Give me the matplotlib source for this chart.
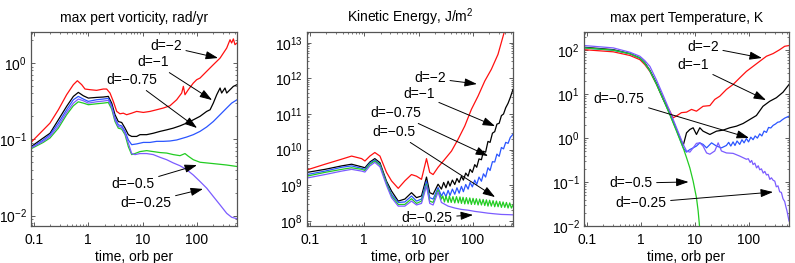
import matplotlib
matplotlib.use("Agg")
import matplotlib.pyplot as plt

plt.rcParams['font.family'] = ['Liberation Sans', 'DejaVu Sans']
plt.rcParams['mathtext.default'] = 'regular'

# ---------------- data ----------------
titles = ["max pert vorticity, rad/yr", "Kinetic Energy, J/m$^2$", "max pert Temperature, K"]
xlabel = "time, orb per"
labels = ["d=\u22122", "d=\u22121", "d=\u22120.75", "d=\u22120.5", "d=\u22120.25"]

# Panel 1: max perturbation vorticity
vort_t_red = [0.088, 0.129, 0.197, 0.281, 0.399, 0.531, 0.629, 0.756, 0.870, 1.076, 1.421, 1.890, 2.181, 2.514,
              2.891, 3.341, 3.836, 4.420, 5.093, 6.303, 7.790, 10.33, 13.72, 18.22, 24.16, 31.97, 42.56, 52.66,
              56.50, 60.53, 69.68, 86.17, 99.38, 114.5, 151.9, 201.2, 268.1, 355.3, 409.2, 438.2, 471.4, 504.9, 550]
vort_red = [0.091, 0.12, 0.163, 0.244, 0.384, 0.52, 0.586, 0.52, 0.456, 0.447, 0.438, 0.456, 0.456, 0.404,
            0.314, 0.232, 0.216, 0.22, 0.21, 0.22, 0.232, 0.225, 0.232, 0.244, 0.257, 0.275, 0.33, 0.404, 0.494,
            0.384, 0.447, 0.546, 0.604, 0.635, 0.778, 0.95, 1.16, 1.57, 2.02, 1.83, 2.07, 1.74, 1.83]
vort_t_black = [0.088, 0.148, 0.197, 0.281, 0.399, 0.531, 0.655, 0.811, 1.00, 1.421, 1.890, 2.340, 2.702, 3.108,
                3.574, 4.126, 4.756, 5.475, 6.303, 7.790, 8.974, 11.90, 15.76, 21.02, 27.82, 36.83, 48.98, 64.93,
                86.17, 114.5, 151.9, 175.7, 201.2, 232.7, 268.1, 286.9, 330.5, 355.3, 409.2, 471.4, 550]
vort_black = [0.080, 0.104, 0.12, 0.18, 0.27, 0.365, 0.412, 0.372, 0.347, 0.354, 0.358, 0.365, 0.298, 0.21,
              0.171, 0.166, 0.140, 0.115, 0.109, 0.109, 0.115, 0.115, 0.12, 0.127, 0.133, 0.140, 0.150, 0.163,
              0.18, 0.2, 0.232, 0.244, 0.298, 0.384, 0.47, 0.404, 0.47, 0.404, 0.447, 0.494, 0.52]
vort_t_blue = [0.088, 0.148, 0.197, 0.281, 0.399, 0.531, 0.655, 0.811, 1.00, 1.421, 1.890, 2.340, 2.702, 3.108,
               3.574, 4.126, 4.756, 5.475, 6.303, 7.790, 10.33, 13.72, 18.22, 24.16, 31.97, 42.56, 64.93, 86.17,
               114.5, 151.9, 201.2, 268.1, 355.3, 438.2, 550]
vort_blue = [0.077, 0.098, 0.115, 0.163, 0.244, 0.33, 0.365, 0.337, 0.314, 0.33, 0.337, 0.344, 0.275, 0.19,
             0.155, 0.150, 0.127, 0.098, 0.085, 0.087, 0.091, 0.091, 0.094, 0.094, 0.095, 0.098, 0.107, 0.115,
             0.127, 0.145, 0.171, 0.21, 0.257, 0.298, 0.33]
vort_t_green = [0.088, 0.148, 0.197, 0.281, 0.399, 0.531, 0.655, 0.811, 1.00, 1.421, 1.890, 2.340, 2.702, 3.108,
                3.574, 4.126, 4.756, 5.475, 6.303, 7.254, 8.974, 11.90, 15.76, 21.02, 27.82, 36.83, 48.98, 60.53,
                69.68, 86.17, 114.5, 151.9, 201.2, 268.1, 355.3, 550]
vort_green = [0.075, 0.091, 0.104, 0.140, 0.21, 0.275, 0.31, 0.298, 0.284, 0.292, 0.298, 0.304, 0.249, 0.171,
              0.140, 0.136, 0.115, 0.080, 0.063, 0.065, 0.069, 0.071, 0.069, 0.067, 0.066, 0.063, 0.061, 0.065,
              0.060, 0.054, 0.050, 0.049, 0.048, 0.047, 0.046, 0.044]
vort_t_purple = [0.088, 0.148, 0.197, 0.281, 0.399, 0.531, 0.655, 0.811, 1.00, 1.421, 1.890, 2.340, 2.702, 3.108,
                 3.574, 4.126, 4.756, 5.475, 6.303, 7.254, 8.974, 11.90, 15.76, 21.02, 27.82, 36.83, 48.98, 64.93,
                 86.17, 114.5, 151.9, 201.2, 268.1, 355.3, 438.2, 550]
vort_purple = [0.077, 0.094, 0.109, 0.150, 0.225, 0.298, 0.337, 0.32, 0.298, 0.31, 0.317, 0.324, 0.264, 0.18,
               0.147, 0.143, 0.12, 0.089, 0.065, 0.063, 0.065, 0.065, 0.063, 0.058, 0.054, 0.049, 0.045, 0.040,
               0.034, 0.028, 0.0229, 0.0178, 0.0138, 0.0107, 0.0095, 0.0091]

# Panel 2: kinetic energy
ke_t_red = [0.088, 0.189, 0.383, 0.584, 0.893, 1.028, 1.268, 1.564, 1.943, 2.567, 3.177, 4.224, 5.588, 7.413,
            9.166, 11.33, 14.01, 16.07, 18.54, 22.90, 30.52, 40.43, 53.49, 71.04, 94.15, 125.1, 165.9, 219.7,
            290.7, 376.4, 446.1]
ke_red = [2.7e9, 3.9e9, 5.4e9, 6.6e9, 5.6e9, 4.8e9, 6.6e9, 8.3e9, 6.6e9, 2.3e9, 1.33e9, 8.2e8, 1.33e9, 2.0e9,
          1.8e9, 1.47e9, 5.6e9, 2.3e9, 2.0e9, 3.2e9, 5.4e9, 9.1e9, 1.95e10, 4.6e10, 1.35e11, 3.2e11, 8.4e11,
          1.8e12, 4.7e12, 1.9e13, 4.5e13]
ke_t_early = [0.088, 0.189, 0.383, 0.584, 0.893, 1.028, 1.268, 1.564, 1.943, 2.567, 3.177, 4.224, 5.588, 7.413,
              9.166, 11.33, 14.01, 16.07, 18.54, 22.90]
ke_t_late_a = [26.38, 29, 32, 35.05, 38, 42, 46.5, 51, 56, 61.71, 67, 74, 81.87, 89, 98, 108.5, 118, 130, 144,
               157, 172, 190.2, 208, 230, 253.2, 278, 306, 336.3, 368, 404, 446.1, 490, 550]
ke_black = [2.3e9, 2.8e9, 3.5e9, 3.9e9, 3.3e9, 3.1e9, 4.5e9, 5.6e9, 4.3e9, 1.3e9, 6.9e8, 3.6e8, 4.1e8, 6.2e8,
            4.5e8, 5.0e8, 1.7e9, 6.2e8, 5.6e8, 1.07e9,
            7.8e8, 1.2e9, 8.5e8, 1.3e9, 9.5e8, 1.4e9, 1.05e9, 1.55e9, 1.2e9, 1.8e9, 1.4e9, 2.2e9, 1.8e9, 2.8e9,
            2.3e9, 3.8e9, 3.2e9, 5.5e9, 5.2e9, 9.0e9, 8.5e9, 1.7e10, 1.6e10, 2.9e10, 3.2e10, 5.2e10, 5.5e10,
            9.0e10, 1.0e11, 1.5e11, 2.0e11, 2.9e11, 4.9e11]
ke_blue = [2.0e9, 2.5e9, 3.2e9, 3.5e9, 3.0e9, 2.8e9, 4.2e9, 5.1e9, 3.9e9, 1.18e9, 5.6e8, 3.3e8, 3.4e8, 5.0e8,
           3.6e8, 4.1e8, 1.3e9, 4.5e8, 4.1e8, 8.6e8,
           5.0e8, 6.5e8, 4.8e8, 7.2e8, 5.2e8, 7.8e8, 5.6e8, 8.5e8, 6.0e8, 9.3e8, 6.6e8, 1.05e9, 7.8e8, 1.2e9,
           9.0e8, 1.4e9, 1.05e9, 1.7e9, 1.3e9, 2.1e9, 1.7e9, 3.1e9, 2.6e9, 4.6e9, 4.5e9, 7.5e9, 6.5e9, 1.15e10,
           1.05e10, 1.6e10, 1.5e10, 2.2e10, 2.7e10]
ke_t_late_g = [26.38, 28, 30, 32, 35.05, 37, 40, 43, 46.5, 50, 54, 58, 61.71, 66, 71, 76, 81.87, 88, 94, 101,
               108.5, 116, 125, 134, 144, 155, 166, 178, 190.2, 204, 219, 236, 253.2, 272, 292, 314, 336.3, 361,
               388, 416, 446.1, 479, 514, 550]
ke_green = [1.8e9, 2.3e9, 2.8e9, 3.1e9, 2.8e9, 2.6e9, 3.9e9, 4.8e9, 3.7e9, 1.12e9, 5.0e8, 2.9e8, 2.9e8, 4.2e8,
            3.1e8, 3.6e8, 1.07e9, 3.6e8, 3.3e8, 7.4e8,
            4.1e8, 5.0e8, 3.4e8, 4.9e8, 3.3e8, 5.0e8, 3.3e8, 4.8e8, 3.2e8, 4.8e8, 3.2e8, 4.7e8, 3.1e8, 4.6e8,
            3.0e8, 4.5e8, 3.0e8, 4.4e8, 2.9e8, 4.3e8, 2.9e8, 4.2e8, 2.8e8, 4.1e8, 2.8e8, 4.0e8, 2.7e8, 3.9e8,
            2.6e8, 3.8e8, 2.6e8, 3.7e8, 2.5e8, 3.6e8, 2.5e8, 3.5e8, 2.4e8, 3.4e8, 2.4e8, 3.3e8, 2.3e8, 3.2e8,
            2.3e8, 2.8e8]
ke_t_purple = [0.088, 0.189, 0.383, 0.584, 0.893, 1.028, 1.268, 1.564, 1.943, 2.567, 3.177, 4.224, 5.588, 7.413,
               9.166, 11.33, 14.01, 16.07, 18.54, 22.90, 26.38, 35.05, 46.50, 61.71, 81.87, 108.5, 144.0, 190.2,
               253.2, 336.3, 446.1, 550]
ke_purple = [1.6e9, 2.0e9, 2.5e9, 2.8e9, 2.5e9, 2.35e9, 3.5e9, 4.4e9, 3.3e9, 1.0e9, 4.5e8, 2.6e8, 2.6e8, 3.6e8,
             2.8e8, 3.1e8, 9.6e8, 3.1e8, 2.8e8, 6.5e8, 3.3e8, 2.6e8, 2.3e8, 2.1e8, 2.0e8, 1.85e8, 1.75e8, 1.65e8,
             1.58e8, 1.52e8, 1.5e8, 1.48e8]

# Panel 3: max perturbation temperature
tmp_t_red = [0.088, 0.307, 0.624, 0.954, 1.178, 1.460, 1.943, 2.581, 3.423, 3.947, 4.546, 5.617, 6.964, 8.607,
             10.64, 14.09, 18.85, 23.22, 28.77, 38.13, 50.66, 67.30, 89.44, 118.9, 157.9, 210.4, 279.4, 370.7,
             457.7, 550]
tmp_red = [103, 92, 76, 61, 47, 33, 16.6, 7.6, 4.1, 2.9, 3.2, 3.8, 3.9, 4.5, 4.1, 5.3, 5.5, 7.6, 9.0, 12.8, 16.6,
           23.5, 33, 43, 56, 73, 84, 103, 123, 128]
tmp_t_black = [0.088, 0.307, 0.624, 0.954, 1.178, 1.460, 1.943, 2.581, 3.423, 4.546, 6.045, 6.964, 8.023, 9.237,
               10.64, 12.27, 14.09, 18.85, 24.95, 33.11, 44.04, 58.52, 77.55, 103.1, 137.0, 181.1, 241.9, 321.0,
               426.6, 550]
tmp_black = [117, 103, 84, 67, 52, 35, 17.5, 7.8, 3.6, 1.57, 0.68, 1.32, 1.57, 1.72, 1.21, 1.72, 1.44, 1.21,
             1.44, 1.52, 1.72, 1.87, 2.15, 2.65, 3.27, 5.3, 6.9, 8.3, 11.1, 16.6]
tmp_t_blue = [0.088, 0.307, 0.624, 0.954, 1.178, 1.460, 1.943, 2.581, 3.423, 4.546, 6.045, 6.964, 8.023, 9.237,
              10.64, 12.27, 14.09, 16.38, 20.24, 24.95, 30.85, 38.13, 42, 46, 50.66, 55, 60, 67.3, 74, 81, 89.44,
              98, 108, 118.9, 130, 143, 157.9, 173, 190, 210.4, 230, 253, 279.4, 310, 340, 370.7, 410, 457.7,
              500, 550]
tmp_blue = [113, 100, 83, 66, 51, 34, 17, 7.6, 3.5, 1.5, 0.60, 0.48, 0.55, 0.6, 0.66, 0.78, 0.72, 0.60, 0.78,
            0.66, 0.6, 0.68, 0.8, 0.66, 0.82, 0.68, 0.86, 0.72, 0.92, 0.78, 0.98, 0.82, 1.05, 0.92, 1.12, 1.0,
            1.25, 1.12, 1.45, 1.35, 1.75, 1.7, 1.95, 2.1, 2.3, 2.35, 2.6, 2.85, 3.0, 3.16]
tmp_t_green = [0.088, 0.307, 0.624, 0.954, 1.178, 1.460, 1.943, 2.581, 3.423, 4.546, 6.045, 6.964, 8.023, 9.237,
               10.64, 11.43, 12.27]
tmp_green = [113, 100, 83, 66, 50, 34, 16.6, 7.6, 3.4, 1.44, 0.60, 0.36, 0.21, 0.105, 0.044, 0.022, 0.0084]
tmp_t_purple = [0.088, 0.307, 0.624, 0.954, 1.178, 1.460, 1.943, 2.581, 3.423, 4.546, 6.045, 6.964, 8.023, 9.237,
                10.64, 12.27, 14.09, 16.38, 18.85, 23.22, 26.86, 30.85, 38.13, 50.66, 67.30, 89.44, 97, 105, 112,
                118.9, 128, 138, 148, 157.9, 170, 183, 196, 210.4, 226, 243, 260, 279.4, 300, 320, 343.9, 370,
                397.6, 425, 457.7, 480, 504.9, 550]
tmp_purple = [128, 113, 90, 73, 58, 43, 20.8, 9.3, 4.1, 1.72, 0.72, 0.51, 0.48, 0.60, 0.76, 0.78, 0.66, 0.46,
              0.43, 0.51, 0.78, 0.51, 0.46, 0.45, 0.39, 0.33, 0.34, 0.28, 0.31, 0.25, 0.27, 0.21, 0.235, 0.19,
              0.2, 0.16, 0.175, 0.145, 0.15, 0.115, 0.125, 0.11, 0.105, 0.078, 0.082, 0.06, 0.058, 0.042, 0.036,
              0.028, 0.022, 0.013]

colors = ["#ff1010", "#000000", "#2a55ff", "#22cc22", "#7b5cff"]

# ---------------- figure ----------------
fig = plt.figure(figsize=(7.95, 2.63), dpi=100)
W, H = 795.0, 263.0
boxes = [(31, 206), (307, 206), (584, 205)]
ax_top, ax_bot = 32, 226
axes = []
for (x0, w) in boxes:
    axes.append(fig.add_axes([x0 / W, (H - ax_bot) / H, w / W, (ax_bot - ax_top) / H]))

series = [
    [(vort_t_red, vort_red), (vort_t_black, vort_black), (vort_t_blue, vort_blue),
     (vort_t_green, vort_green), (vort_t_purple, vort_purple)],
    [(ke_t_red, ke_red), (ke_t_early + ke_t_late_a, ke_black), (ke_t_early + ke_t_late_a, ke_blue),
     (ke_t_early + ke_t_late_g, ke_green), (ke_t_purple, ke_purple)],
    [(tmp_t_red, tmp_red), (tmp_t_black, tmp_black), (tmp_t_blue, tmp_blue),
     (tmp_t_green, tmp_green), (tmp_t_purple, tmp_purple)],
]
ylims = [(0.0073, 2.55), (7.2e7, 2.0e13), (0.01, 260)]
xlim = (0.088, 550)

# annotation placements (axes fraction): text centre, arrow head
ann = [
    [((0.655, 0.928), (0.908, 0.866)), ((0.592, 0.845), (0.879, 0.649)), ((0.49, 0.753), (0.806, 0.505)),
     ((0.495, 0.216), (0.806, 0.314)), ((0.558, 0.119), (0.835, 0.191))],
    [((0.597, 0.763), (0.825, 0.732)), ((0.544, 0.680), (0.913, 0.515)), ((0.432, 0.582), (0.879, 0.361)),
     ((0.422, 0.485), (0.913, 0.149)), ((0.583, 0.041), (0.806, 0.057))],
    [((0.580, 0.925), (0.868, 0.866)), ((0.532, 0.830), (0.888, 0.649)), ((0.171, 0.655), (0.805, 0.454)),
     ((0.229, 0.221), (0.51, 0.227)), ((0.278, 0.119), (0.922, 0.175))],
]

FS = 10
for i, ax in enumerate(axes):
    for (t, v), c in zip(series[i], colors):
        ax.plot(t, v, color=c, lw=0.9)
    ax.set_xscale('log')
    ax.set_yscale('log')
    ax.set_xlim(*xlim)
    ax.set_ylim(*ylims[i])
    ax.set_xticks([0.1, 1, 10, 100])
    ax.set_xticklabels(["0.1", "1", "10", "100"])
    ax.set_title(titles[i], fontsize=FS, pad=7)
    ax.set_xlabel(xlabel, fontsize=FS, labelpad=2)
    ax.tick_params(which='both', direction='in', top=True, right=True, labelsize=FS, color='#444444')
    ax.tick_params(which='major', length=3, width=0.6)
    ax.tick_params(which='minor', length=1.5, width=0.5)
    ax.tick_params(axis='x', pad=5)
    ax.tick_params(axis='y', pad=3)
    for s in ax.spines.values():
        s.set_color('#555555')
        s.set_linewidth(0.9)
    for lab, (txt, head) in zip(labels, ann[i]):
        ax.annotate(lab, xy=head, xytext=txt, xycoords='axes fraction', textcoords='axes fraction',
                    ha='center', va='center', fontsize=FS,
                    arrowprops=dict(arrowstyle='-|>,head_length=0.75,head_width=0.25', color='k', lw=0.7,
                                    shrinkA=1, shrinkB=0, mutation_scale=10))

fig.savefig("out.png", dpi=100)
